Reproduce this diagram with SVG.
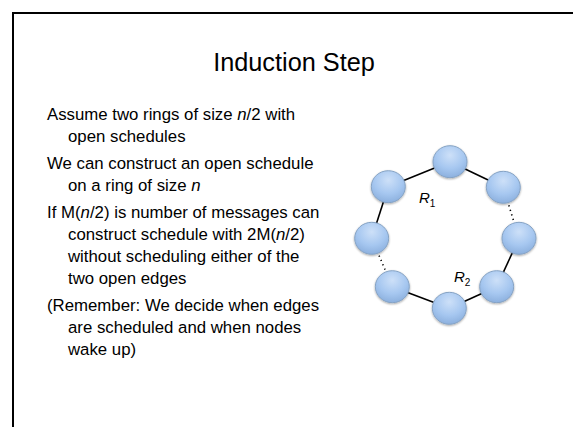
<svg xmlns="http://www.w3.org/2000/svg" width="573" height="427" viewBox="0 0 573 427">
<style>
.t{font-family:"Liberation Sans",Arial,sans-serif;fill:#000}
.title{font-size:25.3px}
.body{font-size:16.8px}
.lab{font-family:"Liberation Sans",Arial,sans-serif;font-size:15px;font-style:italic}
.sub{font-family:"Liberation Sans",Arial,sans-serif;font-size:10px}
.node{fill:url(#g);stroke:#86a3c4;stroke-width:1}
.e{stroke:#000;stroke-width:1.6;fill:none}
.d{stroke:#000;stroke-width:1.6;fill:none;stroke-dasharray:1.2 3.5}
</style>
<defs>
<radialGradient id="g" cx="0.5" cy="0.3" r="0.7">
<stop offset="0" stop-color="#cde0f8"/>
<stop offset="0.6" stop-color="#a6c7f0"/>
<stop offset="1" stop-color="#8cb0de"/>
</radialGradient>
<filter id="sh" x="-30%" y="-30%" width="160%" height="160%">
<feGaussianBlur in="SourceAlpha" stdDeviation="1"/>
<feOffset dx="0" dy="1" result="b"/>
<feComponentTransfer><feFuncA type="linear" slope="0.35"/></feComponentTransfer>
<feMerge><feMergeNode/><feMergeNode in="SourceGraphic"/></feMerge>
</filter>
</defs>
<rect width="573" height="427" fill="#fff"/>
<path d="M13,427 V13 H573" fill="none" stroke="#000" stroke-width="2"/>
<text class="t title" x="294" y="71" text-anchor="middle">Induction Step</text>
<g id="text">
<text class="t body" x="47" y="120">Assume two rings of size <tspan font-style="italic">n</tspan>/2 with</text>
<text class="t body" x="68" y="142">open schedules</text>
<text class="t body" x="47" y="169">We can construct an open schedule</text>
<text class="t body" x="68" y="191">on a ring of size <tspan font-style="italic">n</tspan></text>
<text class="t body" x="47" y="218">If M(<tspan font-style="italic">n</tspan>/2) is number of messages can</text>
<text class="t body" x="68" y="240">construct schedule with 2M(<tspan font-style="italic">n</tspan>/2)</text>
<text class="t body" x="68" y="262">without scheduling either of the</text>
<text class="t body" x="68" y="284">two open edges</text>
<text class="t body" x="47" y="311">(Remember: We decide when edges</text>
<text class="t body" x="68" y="333">are scheduled and when nodes</text>
<text class="t body" x="68" y="355">wake up)</text>
</g>
<g id="connectors">
<line class="e" x1="450" y1="161.7" x2="388.3" y2="186.7"/>
<line class="e" x1="450" y1="161.7" x2="503.3" y2="187.3"/>
<line class="e" x1="388.3" y1="186.7" x2="371.7" y2="238.3"/>
<line class="d" x1="503.3" y1="187.3" x2="519" y2="238.3"/>
<line class="d" x1="371.7" y1="238.3" x2="392.3" y2="286.7"/>
<line class="e" x1="519" y1="238.3" x2="496.7" y2="286.7"/>
<line class="e" x1="392.3" y1="286.7" x2="449.3" y2="308.3"/>
<line class="e" x1="449.3" y1="308.3" x2="496.7" y2="286.7"/>
</g>
<g id="n-top" filter="url(#sh)"><ellipse class="node" cx="450" cy="161.7" rx="17" ry="16"/></g>
<g id="n-ul" filter="url(#sh)"><ellipse class="node" cx="388.3" cy="186.7" rx="17" ry="16"/></g>
<g id="n-ur" filter="url(#sh)"><ellipse class="node" cx="503.3" cy="187.3" rx="17" ry="16"/></g>
<g id="n-l" filter="url(#sh)"><ellipse class="node" cx="371.7" cy="238.3" rx="17" ry="16"/></g>
<g id="n-r" filter="url(#sh)"><ellipse class="node" cx="519" cy="238.3" rx="17" ry="16"/></g>
<g id="n-ll" filter="url(#sh)"><ellipse class="node" cx="392.3" cy="286.7" rx="17" ry="16"/></g>
<g id="n-lr" filter="url(#sh)"><ellipse class="node" cx="496.7" cy="286.7" rx="17" ry="16"/></g>
<g id="n-b" filter="url(#sh)"><ellipse class="node" cx="449.3" cy="308.3" rx="17" ry="16"/></g>
<g id="labels">
<text x="419" y="203"><tspan class="lab">R</tspan><tspan class="sub" dy="4">1</tspan></text>
<text x="454" y="282"><tspan class="lab">R</tspan><tspan class="sub" dy="4">2</tspan></text>
</g>
</svg>
